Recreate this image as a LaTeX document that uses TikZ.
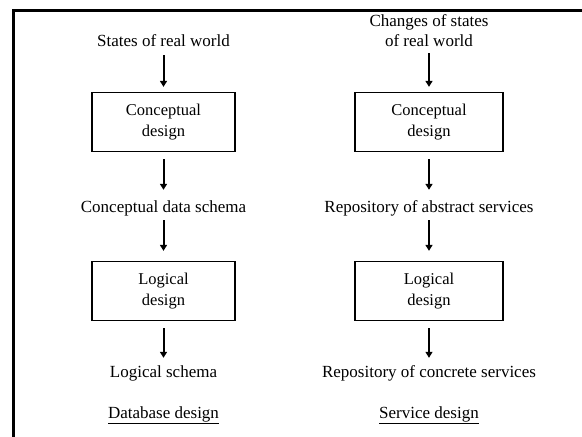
\documentclass[tikz,border=0pt]{standalone}
\usepackage{fontspec}
\setmainfont{Liberation Serif}
\usetikzlibrary{arrows.meta}
\begin{document}
\begin{tikzpicture}[x=1pt,y=-1pt,
  lblbase/.style={inner sep=0pt, font=\fontsize{17}{20}\selectfont, align=center},
  lbl/.style={lblbase, text height=12pt, text depth=4pt},
  dbox/.style={draw, line width=1.3pt, minimum width=143pt, minimum height=59pt, inner sep=0pt, font=\fontsize{16.5}{21}\selectfont, align=center},
  flow/.style={line width=2pt, -{Triangle[width=7pt,length=6pt]}},
  frame/.style={line width=3pt}]
\useasboundingbox (0,0) rectangle (582,437);
\coordinate (fb) at (13.5,437);
\coordinate (fc) at (13.5,10);
\coordinate (fr) at (582,10);
\draw[frame] (fb) -- (fc) -- (fr);
% left column
\node[lbl] (s1) at (163.5,42) {States of real world};
\node[dbox] (c1) at (163.5,122) {Conceptual\\design};
\node[lbl] (d1) at (163.5,208) {Conceptual data schema};
\node[dbox] (l1) at (163.5,291) {Logical\\design};
\node[lbl] (g1) at (163.5,373) {Logical schema};
\node[lbl] (t1) at (163.5,414) {\underline{Database design}};
\draw[flow] ([yshift=-5pt]s1.south) -- ([yshift=5pt]c1.north);
\draw[flow] ([yshift=-7pt]c1.south) -- ([yshift=10pt]d1.north);
\draw[flow] ([yshift=-4pt]d1.south) -- ([yshift=10pt]l1.north);
\draw[flow] ([yshift=-7pt]l1.south) -- ([yshift=7pt]g1.north);
% right column
\node[lblbase] (s2) at (429,31) {Changes of states\\of real world};
\node[dbox, minimum width=148pt] (c2) at (429,122) {Conceptual\\design};
\node[lbl] (d2) at (429,208) {Repository of abstract services};
\node[dbox, minimum width=148pt] (l2) at (429,291) {Logical\\design};
\node[lbl] (g2) at (429,373) {Repository of concrete services};
\node[lbl] (t2) at (429,414) {\underline{Service design}};
\draw[flow] ([yshift=-6pt]s2.south) -- ([yshift=5pt]c2.north);
\draw[flow] ([yshift=-7pt]c2.south) -- ([yshift=10pt]d2.north);
\draw[flow] ([yshift=-4pt]d2.south) -- ([yshift=10pt]l2.north);
\draw[flow, line width=1.2pt] ([yshift=-7pt]l2.south) -- ([yshift=7pt]g2.north);
\end{tikzpicture}
\end{document}
